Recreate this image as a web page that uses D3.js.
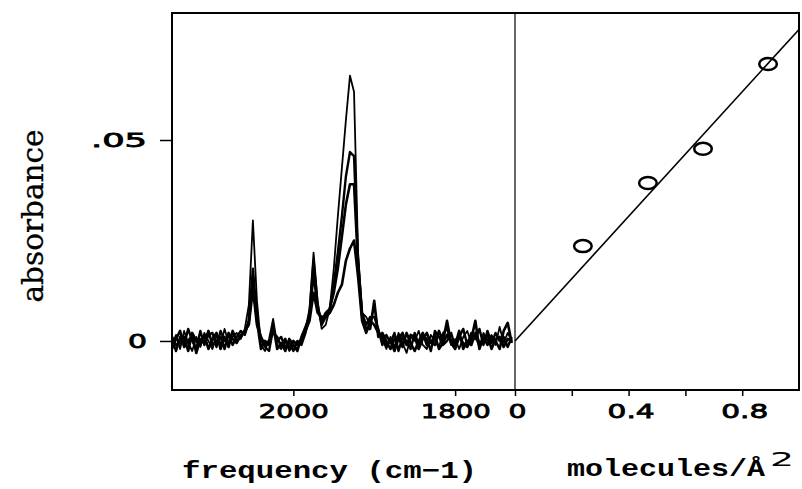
<!DOCTYPE html>
<html>
<head>
<meta charset="utf-8">
<style>
  body { margin: 0; background: #fff; }
  svg text { fill: #000; }
  .tick text { font: 20px "DejaVu Sans"; stroke: #000; stroke-width: 0.8px; }
  .tick line { stroke: #000; stroke-width: 1.5px; }
  .trace { fill: none; stroke: #000; stroke-linejoin: round; }
  .title { font-family: "Liberation Mono"; font-weight: bold; font-size: 24px; }
</style>
</head>
<body>
<script src="https://d3js.org/d3.v7.min.js"></script>
<script>
// spectra: frequency grid (cm-1) and four absorbance traces, in units of 0.001
var freq = [2150, 2145, 2140, 2135, 2130, 2125, 2120, 2115, 2110, 2105,
            2100, 2095, 2090, 2085, 2080, 2075, 2070, 2065, 2060, 2055,
            2050, 2045, 2040, 2035, 2030, 2025, 2020, 2015, 2010, 2005,
            2000, 1995, 1990, 1985, 1980, 1975, 1970, 1965, 1960, 1955,
            1950, 1945, 1940, 1935, 1930, 1925, 1920, 1915, 1910, 1905,
            1900, 1895, 1890, 1885, 1880, 1875, 1870, 1865, 1860, 1855,
            1850, 1845, 1840, 1835, 1830, 1825, 1820, 1815, 1810, 1805,
            1800, 1795, 1790, 1785, 1780, 1775, 1770, 1765, 1760, 1755,
            1750, 1745, 1740, 1735, 1730];

var specA = [-1.0, 1.5, -2.0, 2.5, -0.5, -2.5, 1.0, -1.5, 2.0, 0.0, -2.0, 1.5, -1.0, 3.0, -0.5, 1.0, 2.0, 0.5, 3.0,
             9, 30, 10,
             -1, -2.5, 0.5, 5.5, -1, -2, 0, -2.5, -1, -2, 0.5,
             3, 8, 22, 10, 3, 4, 8, 18, 31, 43, 55, 66, 62, 22, 7, 6, 4, 9, 2,
             0.5, -2, 1, -1.5, 2, -0.5, -3, 1, 0, 2.5, -1, -2, 1.5, 0, -1.5, 2, 3, -1, 0.5, -2, 1, 2.5, -0.5, 1, -1.5, 2, 0, 1.5, -1, 3.5, -0.5, 2, 0];

var specB = [0.5, -2.5, 1.0, -1.0, 3.0, 0.0, -2.0, 2.5, -1.0, 1.5, 2.0, -1.5, 2.5, 0.0, 1.5, -1.0, 1.0, 2.5, 1.5,
             5, 18, 6,
             0.5, -1.5, -2.5, 3, 0, 1, -1.5, -0.5, -2.5, 0, -1,
             2, 7, 20, 9, 4, 6, 8, 14, 22, 31, 41, 47, 46, 20, 7, 4, 6, 6, 3,
             -1, 1.5, -0.5, 2, -2.5, 1, 0, -2, 2, -1, 1.5, 0.5, -2.5, 2.5, 1, -1, 0, 2, -1.5, 1, 3, -1, 2, 0.5, 3, -1, 2.5, -0.5, 2, 0, 1, -1.5, 1];

var specC = [-2.0, 0.5, 2.5, -1.5, 0.0, 1.5, -3.0, 0.5, -0.5, 2.5, -1.0, 0.0, 1.0, -2.0, 2.0, 0.5, -0.5, 1.5, 2.0,
             5, 15, 5,
             -2, 0, -1, 4, -2, -0.5, -2.5, 0.5, -1, -2.5, 1,
             3.5, 6, 17, 8, 5, 7, 8, 12, 18, 26, 34, 39, 39, 19, 6, 3, 3, 10, 1,
             2, 0, -2, 0.5, 1, -1.5, 2, -0.5, -2.5, 0, 2, -1, 0, -1, 2.5, 0, 5, -0.5, -2, 1, -0.5, -1.5, 0.5, 5, -2, 1, -1, 1, 0, -2, 2.5, 4.5, -0.5];

var specD = [1.0, -1.0, -0.5, 1.0, -2.5, 2.0, 0.0, -1.0, 1.5, -2.0, 0.5, 2.0, -2.0, 1.0, -1.5, 2.5, 0.0, 1.0, 2.5,
             4, 13, 4,
             1, -1, 0, 2, 1, -1.5, 0.5, -2, 0, -1, 0.5,
             2.5, 5, 12, 7, 6, 6, 7, 9, 12, 14, 20, 23, 25, 16, 5, 2, 5, 4, 2,
             1, -1, 0, -2.5, 0.5, 2, -1, 1.5, 1, -2, 0.5, 2, -0.5, 1.5, -2, -0.5, 1.5, 0, -1, 2.5, -2, 0, -1, 2, -0.5, 0, 1.5, -2, 0.5, 1, -1.5, 0.5, 0];

// peak absorbance against coverage (molecules / A^2)
var coverage = [0.239, 0.468, 0.662, 0.891];
var peakAbs  = [0.0236, 0.0393, 0.0478, 0.0689];
var fitX = [0, 1.0];
var fitY = [0, 0.0775];

var xLeftTicks  = [2000, 1800];
var xRightTicks = [0, 0.2, 0.4, 0.6, 0.8];
var xRightLabels = ["0", "", "0.4", "", "0.8"];
var yTicks = [0, 0.05];
var yTickLabels = ["0", ".05"];

var W = 802, H = 489;
var box = { left: 172, top: 13, right: 799, bottom: 390 },
    split = 515;   // where the spectrum panel ends and the coverage panel starts

var svg = d3.select("body").append("svg")
    .attr("width", W)
    .attr("height", H);

var y  = d3.scaleLinear().domain([-0.0122, 0.0816]).range([box.bottom, box.top]);
var xL = d3.scaleLinear().domain([2150, 1726]).range([box.left, split]);
var xR = d3.scaleLinear().domain([0, 1]).range([split, box.right]);

// stretch the wide plotter digits
function stretch(sel, perDigit, perDot) {
  sel.each(function () {
    var s = this.textContent;
    if (!s) return;
    var n = s.replace(/\./g, "").length, dots = s.length - n;
    d3.select(this)
      .attr("textLength", n * perDigit + dots * perDot)
      .attr("lengthAdjust", "spacingAndGlyphs");
  });
}

// y axis
var gy = svg.append("g")
    .attr("transform", "translate(" + box.left + ",0)")
    .call(d3.axisLeft(y).tickValues(yTicks).tickSize(12).tickPadding(13)
      .tickFormat(function (d, i) { return yTickLabels[i]; }));
gy.select(".domain").remove();
stretch(gy.selectAll(".tick text"), 19, 18);

// bottom axes
var gxl = svg.append("g")
    .attr("transform", "translate(0," + box.bottom + ")")
    .call(d3.axisBottom(xL).tickValues(xLeftTicks).tickSize(6).tickPadding(8)
      .tickFormat(d3.format("d")));
gxl.select(".domain").remove();
stretch(gxl.selectAll(".tick text"), 17.5, 10);

var gxr = svg.append("g")
    .attr("transform", "translate(0," + box.bottom + ")")
    .call(d3.axisBottom(xR).tickValues(xRightTicks).tickSize(6).tickPadding(8)
      .tickFormat(function (d, i) { return xRightLabels[i]; }));
gxr.select(".domain").remove();
gxr.selectAll(".tick text").attr("dx", 2);
stretch(gxr.selectAll(".tick text"), 18, 11);

// spectra
var spectra = [specD, specC, specB, specA];
var widths  = [2.6, 2.6, 2.4, 1.8];
var line = d3.line()
    .x(function (d, i) { return xL(freq[i]); })
    .y(function (d) { return y(d / 1000); });

svg.append("g").selectAll("path")
    .data(spectra)
  .enter().append("path")
    .attr("class", "trace")
    .attr("d", line)
    .style("stroke-width", function (d, i) { return widths[i] + "px"; });

// linear fit and points
var fit = d3.line()
    .x(function (d, i) { return xR(fitX[i]); })
    .y(function (d) { return y(d); });

svg.append("path")
    .attr("d", fit(fitY))
    .style("fill", "none")
    .style("stroke", "#000")
    .style("stroke-width", "1.6px");

svg.append("g").selectAll("ellipse")
    .data(peakAbs)
  .enter().append("ellipse")
    .attr("cx", function (d, i) { return xR(coverage[i]); })
    .attr("cy", function (d) { return y(d); })
    .attr("rx", 8.8)
    .attr("ry", 6)
    .style("fill", "none")
    .style("stroke", "#000")
    .style("stroke-width", "2.5px");

// frame and divider
svg.append("rect")
    .attr("x", box.left)
    .attr("y", box.top)
    .attr("width", box.right - box.left)
    .attr("height", box.bottom - box.top)
    .style("fill", "none")
    .style("stroke", "#000")
    .style("stroke-width", "2px");

svg.append("line")
    .attr("x1", split).attr("x2", split)
    .attr("y1", box.top).attr("y2", box.bottom)
    .style("stroke", "#000")
    .style("stroke-width", "1.2px");

// titles
svg.append("text")
    .attr("transform", "translate(43,216) rotate(-90)")
    .attr("text-anchor", "middle")
    .attr("textLength", 173)
    .attr("lengthAdjust", "spacingAndGlyphs")
    .style("font-family", "DejaVu Serif")
    .style("font-size", "30px")
    .style("stroke", "#000")
    .style("stroke-width", "0.3px")
    .text("absorbance");

svg.append("text")
    .attr("class", "title")
    .attr("x", 182)
    .attr("y", 478)
    .attr("textLength", 295)
    .attr("lengthAdjust", "spacingAndGlyphs")
    .text("frequency (cm\u22121)");

svg.append("text")
    .attr("class", "title")
    .attr("x", 567)
    .attr("y", 476)
    .attr("textLength", 198)
    .attr("lengthAdjust", "spacingAndGlyphs")
    .text("molecules/\u00c5");

svg.append("text")
    .attr("x", 770)
    .attr("y", 466)
    .attr("textLength", 24)
    .attr("lengthAdjust", "spacingAndGlyphs")
    .style("font-size", "20px")
    .style("font-family", "DejaVu Sans")
    .text("2");
</script>
</body>
</html>
